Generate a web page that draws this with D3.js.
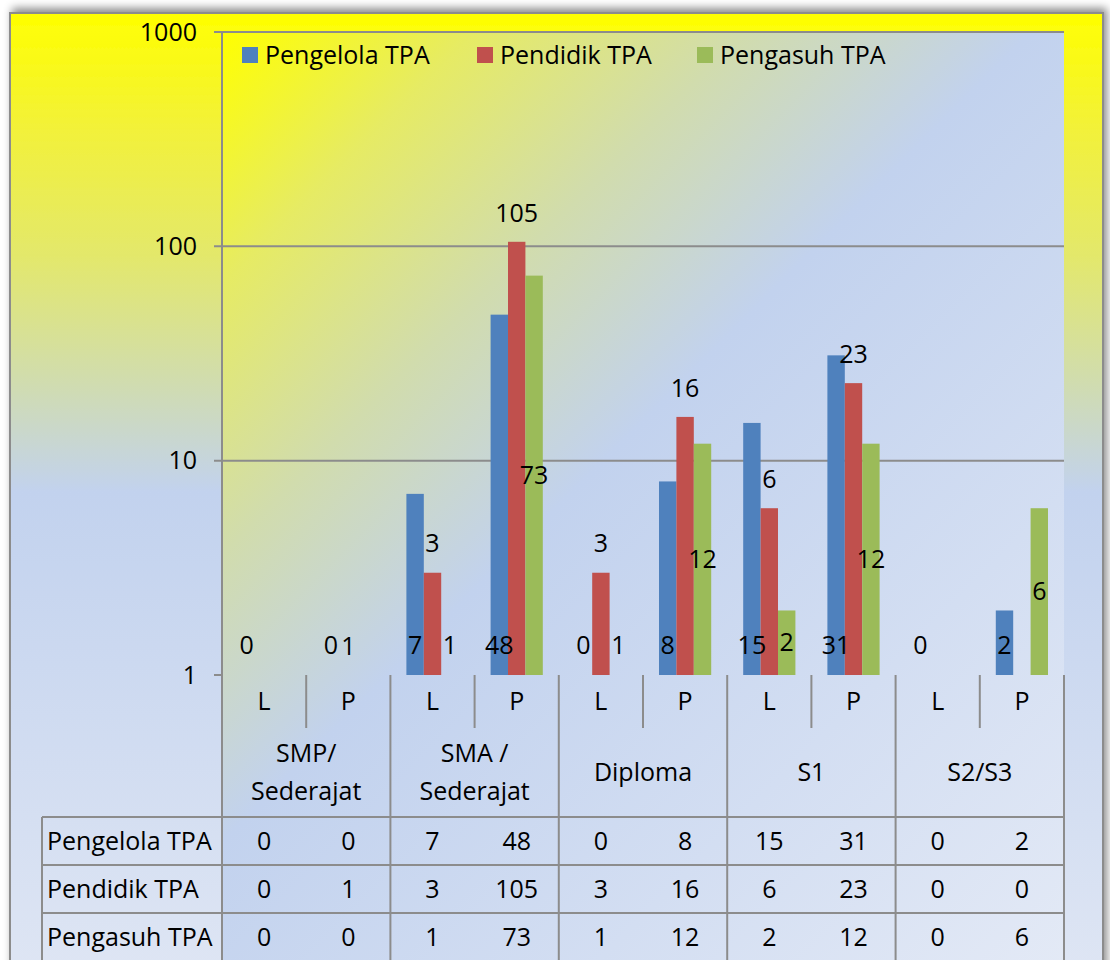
<!DOCTYPE html>
<html>
<head>
<meta charset="utf-8">
<script src="https://cdn.jsdelivr.net/npm/d3@7"></script>
<style>
  html, body { margin: 0; padding: 0; background: #fff; }
  svg { display: block; font-family: 'Open Sans', sans-serif; }
  .grid, .frame line { stroke: #8c8c8c; stroke-width: 2; }
  .lbl { font-size: 25px; fill: #000; }
</style>
</head>
<body>
<div id="chart"></div>
<script>
// categories
const levels = [['SMP/', 'Sederajat'], ['SMA /', 'Sederajat'], ['Diploma'], ['S1'], ['S2/S3']];
const genders = ['L', 'P'];
const seriesNames = ['Pengelola TPA', 'Pendidik TPA', 'Pengasuh TPA'];
const seriesColors = ['#4f81bd', '#c0504d', '#9bbb59'];

// values, one per L/P column (SMP L, SMP P, SMA L, ...)
const pengelola = [0, 0, 7, 48, 0, 8, 15, 31, 0, 2];
const pendidik = [0, 1, 3, 105, 3, 16, 6, 23, 0, 0];
const pengasuh = [0, 0, 1, 73, 1, 12, 2, 12, 0, 6];

const yTicks = [1, 10, 100, 1000];

const W = 1110, H = 960;
const plot = { left: 222, right: 1064, top: 32, bottom: 675 };
const rowTop = 817, rowH = 48;

const values = [pengelola, pendidik, pengasuh];
const columns = levels.flatMap((lv, i) => genders.map(g => ({ level: i, gender: g })));

const svg = d3.select('#chart').append('svg')
  .attr('width', W)
  .attr('height', H);

const defs = svg.append('defs');

const bgGrad = defs.append('linearGradient')
  .attr('id', 'bg')
  .attr('gradientUnits', 'userSpaceOnUse')
  .attr('x1', 0).attr('y1', 13).attr('x2', 0).attr('y2', 990);
[[0, '#ffff00'], [0.12, '#f2f13a'], [0.25, '#e3e86c'], [0.38, '#d0dcb0'], [0.49, '#c2d2ee'], [1, '#dfe6f4']]
  .forEach(([o, c]) => bgGrad.append('stop').attr('offset', o).attr('stop-color', c));

const plotGrad = defs.append('linearGradient')
  .attr('id', 'plotbg')
  .attr('gradientUnits', 'userSpaceOnUse')
  .attr('x1', plot.left).attr('y1', plot.top)
  .attr('x2', plot.left + 900).attr('y2', plot.top + 900);
[[0, '#ffff00'], [0.14, '#e6eb64'], [0.29, '#d1dcad'], [0.45, '#c2d2ee'], [1, '#e4eaf6']]
  .forEach(([o, c]) => plotGrad.append('stop').attr('offset', o).attr('stop-color', c));

const shadow = defs.append('filter')
  .attr('id', 'shadow')
  .attr('x', -0.05).attr('y', -0.05).attr('width', 1.1).attr('height', 1.1);
shadow.append('feDropShadow')
  .attr('dx', 3).attr('dy', -4)
  .attr('stdDeviation', 4)
  .attr('flood-color', '#000')
  .attr('flood-opacity', 0.45);

// chart area
svg.append('rect')
  .attr('x', 10).attr('y', 13)
  .attr('width', 1093).attr('height', 1000)
  .attr('fill', 'url(#bg)')
  .attr('stroke', '#8c8c8c')
  .attr('stroke-width', 2)
  .attr('filter', 'url(#shadow)');

// plot area (runs down under the data table cells)
svg.append('rect')
  .attr('x', plot.left).attr('y', plot.top)
  .attr('width', plot.right - plot.left).attr('height', H - plot.top + 10)
  .attr('fill', 'url(#plotbg)');

const x0 = d3.scaleBand()
  .domain(d3.range(columns.length))
  .range([plot.left, plot.right]);

const x1 = d3.scaleBand()
  .domain(d3.range(seriesNames.length))
  .range([x0.bandwidth() * 0.19, x0.bandwidth() * 0.81]);

const y = d3.scaleLog()
  .domain([1, 1000])
  .range([plot.bottom, plot.top]);

// gridlines + y ticks
svg.append('g')
  .selectAll('line')
  .data(yTicks)
  .join('line')
  .attr('class', 'grid')
  .attr('x1', plot.left - 8)
  .attr('x2', d => (d === 1 ? plot.left : plot.right))
  .attr('y1', d => y(d))
  .attr('y2', d => y(d));

svg.append('line')
  .attr('class', 'grid')
  .attr('x1', plot.left).attr('x2', plot.left)
  .attr('y1', plot.top).attr('y2', plot.bottom);

svg.append('g')
  .selectAll('text')
  .data(yTicks)
  .join('text')
  .attr('class', 'lbl')
  .attr('x', 197)
  .attr('y', d => y(d))
  .attr('dy', '0.35em')
  .attr('text-anchor', 'end')
  .text(d => d);

// bars
const barLayer = svg.append('g');
values.forEach((vals, s) => {
  barLayer.append('g')
    .selectAll('rect')
    .data(vals.map((v, i) => ({ v, i })).filter(d => d.v > 0))
    .join('rect')
    .attr('x', d => x0(d.i) + x1(s))
    .attr('width', x1.bandwidth())
    .attr('y', d => y(d.v))
    .attr('height', d => y(1) - y(d.v))
    .attr('fill', seriesColors[s]);
});

// data labels, placed the way the original spreadsheet did it
const baseLabelY = y(1) - 30;
const labelY = [
  () => baseLabelY,
  v => y(v) - 29,
  v => Math.min((y(v) + y(1)) / 2, baseLabelY)
];
const labelLayer = svg.append('g');
values.forEach((vals, s) => {
  labelLayer.append('g')
    .selectAll('text')
    .data(vals.map((v, i) => ({ v, i })).filter(d => s === 0 || d.v > 0))
    .join('text')
    .attr('class', 'lbl')
    .attr('x', d => x0(d.i) + x1(s) + x1.bandwidth() / 2)
    .attr('y', d => labelY[s](d.v))
    .attr('dy', '0.35em')
    .attr('text-anchor', 'middle')
    .text(d => d.v);
});

// legend
const legend = svg.append('g')
  .selectAll('g')
  .data(seriesNames)
  .join('g')
  .attr('transform', (d, i) => `translate(${[242, 477, 697][i]},47)`);
legend.append('rect')
  .attr('width', 16).attr('height', 16)
  .attr('fill', (d, i) => seriesColors[i]);
legend.append('text')
  .attr('class', 'lbl')
  .attr('x', 23)
  .attr('y', 8)
  .attr('dy', '0.35em')
  .text(d => d);

// category axis + data table
const frame = svg.append('g').attr('class', 'frame');
const edges = d3.range(columns.length + 1).map(i => plot.left + i * x0.step());

frame.selectAll('line.v')
  .data(edges)
  .join('line')
  .attr('x1', d => d).attr('x2', d => d)
  .attr('y1', plot.bottom)
  .attr('y2', (d, i) => (i % 2 === 1 ? 728 : H + 5));

frame.append('line')
  .attr('x1', 42).attr('x2', 42)
  .attr('y1', rowTop).attr('y2', H + 5);

d3.range(3).forEach(r => {
  frame.append('line')
    .attr('x1', 42).attr('x2', plot.right)
    .attr('y1', rowTop + r * rowH).attr('y2', rowTop + r * rowH);
});

svg.append('g')
  .selectAll('text')
  .data(columns)
  .join('text')
  .attr('class', 'lbl')
  .attr('x', (d, i) => x0(i) + x0.bandwidth() / 2)
  .attr('y', 701)
  .attr('dy', '0.35em')
  .attr('text-anchor', 'middle')
  .text(d => d.gender);

const levelText = svg.append('g')
  .selectAll('text')
  .data(levels)
  .join('text')
  .attr('class', 'lbl')
  .attr('text-anchor', 'middle')
  .attr('x', (d, i) => x0(i * 2) + x0.step());
levelText.selectAll('tspan')
  .data(d => d.map((line, j) => ({ line, j, n: d.length })))
  .join('tspan')
  .attr('x', function() { return d3.select(this.parentNode).attr('x'); })
  .attr('y', d => 772 + (d.j - (d.n - 1) / 2) * 38)
  .attr('dy', '0.35em')
  .text(d => d.line);

seriesNames.forEach((name, r) => {
  const cy = rowTop + r * rowH + rowH / 2;
  svg.append('text')
    .attr('class', 'lbl')
    .attr('x', 47)
    .attr('y', cy)
    .attr('dy', '0.35em')
    .text(name);
  svg.append('g')
    .selectAll('text')
    .data(values[r])
    .join('text')
    .attr('class', 'lbl')
    .attr('x', (d, i) => x0(i) + x0.bandwidth() / 2)
    .attr('y', cy)
    .attr('dy', '0.35em')
    .attr('text-anchor', 'middle')
    .text(d => d);
});
</script>
</body>
</html>
